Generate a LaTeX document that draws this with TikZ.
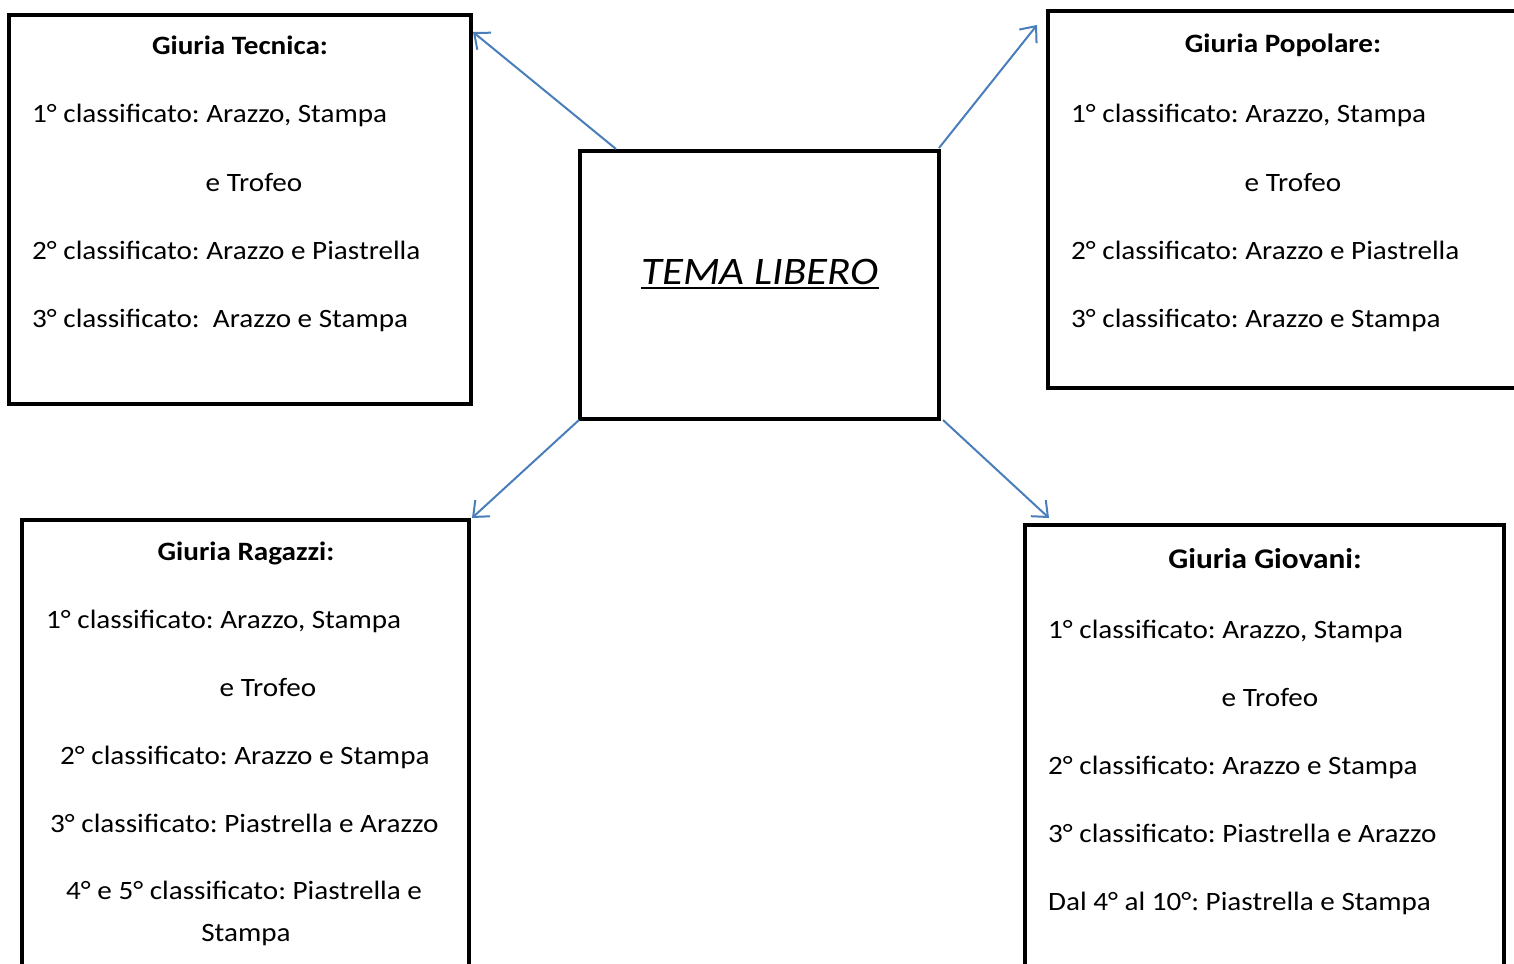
\documentclass[tikz,border=0pt]{standalone}
\usepackage{fontspec}
\setmainfont{Carlito}[FakeStretch=1.1]
\usetikzlibrary{arrows.meta}
\frenchspacing
\definecolor{arrowblue}{HTML}{4A7EBB}
\tikzset{
  box/.style={draw=black,line width=4pt,inner sep=0pt},
  conn/.style={draw=arrowblue,line width=2pt,-{Straight Barb[length=13pt,width=22pt,line width=2pt]}},
  txt/.style={font=\fontsize{26.5}{30}\selectfont,inner sep=0pt,anchor=base west},
  ctxt/.style={font=\fontsize{26.5}{30}\selectfont,inner sep=0pt,anchor=base},
  ttl/.style={font=\fontsize{26.5}{30}\selectfont\bfseries,inner sep=0pt,anchor=base},
}
\begin{document}
\begin{tikzpicture}[x=1pt,y=-1pt]
\useasboundingbox (0,0) rectangle (1514,963);
% boxes
\node[box,minimum width=462pt,minimum height=389pt] (tec) at (240,209.5) {};
\node[box,minimum width=359pt,minimum height=268pt] (cen) at (759.5,285) {};
\node[box,minimum width=472pt,minimum height=377pt] (pop) at (1284,199.5) {};
\node[box,minimum width=447pt,minimum height=470pt] (rag) at (245.5,755) {};
\node[box,minimum width=479pt,minimum height=460pt] (gio) at (1264.5,755) {};
% center text
\node[inner sep=0pt,anchor=base,font=\fontsize{39}{42}\selectfont\itshape] (tema) at (760,284) {TEMA LIBERO};
\draw[line width=2.5pt] ([yshift=-4pt]tema.base west) -- ([yshift=-4pt]tema.base east);
% Tecnica
\node[ttl] (t0) at (240,55) {Giuria Tecnica:};
\node[txt] (t1) at (32,123) {1° classificato: Arazzo, Stampa};
\node[ctxt] (t2) at (254,191) {e Trofeo};
\node[txt] (t3) at (32,259) {2° classificato: Arazzo e Piastrella};
\node[txt] (t4) at (32,327) {3° classificato:\ \ Arazzo e Stampa};
% Popolare
\node[ttl] (p0) at (1283,53) {Giuria Popolare:};
\node[txt] (p1) at (1071,123) {1° classificato: Arazzo, Stampa};
\node[ctxt] (p2) at (1293,191) {e Trofeo};
\node[txt] (p3) at (1071,259) {2° classificato: Arazzo e Piastrella};
\node[txt] (p4) at (1071,327) {3° classificato: Arazzo e Stampa};
% Ragazzi
\node[ttl] (r0) at (246,560) {Giuria Ragazzi:};
\node[txt] (r1) at (46,628) {1° classificato: Arazzo, Stampa};
\node[ctxt] (r2) at (268,696) {e Trofeo};
\node[txt] (r3) at (60,764) {2° classificato: Arazzo e Stampa};
\node[txt] (r4) at (50,832) {3° classificato: Piastrella e Arazzo};
\node[txt] (r5) at (66,899) {4° e 5° classificato: Piastrella e};
\node[ctxt] (r6) at (246,941) {Stampa};
% Giovani
\node[ttl,font=\fontsize{28.5}{32}\selectfont\bfseries] (g0) at (1265,568) {Giuria Giovani:};
\node[txt] (g1) at (1048,638) {1° classificato: Arazzo, Stampa};
\node[ctxt] (g2) at (1270,706) {e Trofeo};
\node[txt] (g3) at (1048,774) {2° classificato: Arazzo e Stampa};
\node[txt] (g4) at (1048,842) {3° classificato: Piastrella e Arazzo};
\node[txt] (g5) at (1048,910) {Dal 4° al 10°: Piastrella e Stampa};
% connectors
\coordinate (a1s) at (616,149); \coordinate (a1e) at (473,32);
\coordinate (a2s) at (939,148); \coordinate (a2e) at (1037,25);
\coordinate (a3s) at (579,420); \coordinate (a3e) at (472,518);
\coordinate (a4s) at (943,420); \coordinate (a4e) at (1049,518);
\draw[conn] (a1s) -- (a1e);
\draw[conn] (a2s) -- (a2e);
\draw[conn] (a3s) -- (a3e);
\draw[conn] (a4s) -- (a4e);
\end{tikzpicture}
\end{document}
